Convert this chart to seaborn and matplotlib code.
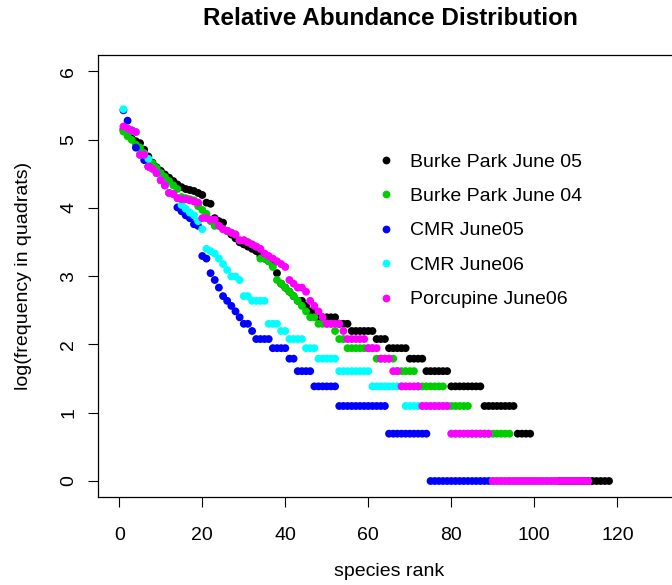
import numpy as np
import pandas as pd
import matplotlib
matplotlib.use("Agg")
import matplotlib.pyplot as plt
import seaborn as sns
from matplotlib.lines import Line2D

# ---------------- data (species frequency by rank) ----------------
site_names = ["Burke Park June 05", "Burke Park June 04", "CMR June05", "CMR June06", "Porcupine June06"]
site_colors = ["#000000", "#00CD00", "#0000FF", "#00FFFF", "#FF00FF"]

burke_june05 = [172, 161, 151, 145, 141, 128, 116, 106, 99, 94, 89, 85, 81, 77, 74, 72, 71, 70, 68, 66,
                59, 58, 47, 45, 44, 39, 37, 35, 33, 32, 31, 30, 29, 27, 26, 25, 24, 21, 18, 17,
                16, 15, 14, 14, 13, 12, 12,
                11, 11, 11, 11, 11,
                10, 10, 10,
                9, 9, 9, 9, 9, 9,
                8, 8, 8,
                7, 7, 7, 7, 7,
                6, 6, 6, 6,
                5, 5, 5, 5, 5, 5,
                4, 4, 4, 4, 4, 4, 4, 4,
                3, 3, 3, 3, 3, 3, 3, 3,
                2, 2, 2, 2,
                1, 1, 1, 1, 1, 1, 1, 1, 1, 1, 1, 1, 1, 1, 1, 1, 1, 1, 1]

burke_june04 = [167, 156, 148, 138, 132, 122, 112, 105, 98, 91, 86, 81, 76, 72, 64, 63, 62, 61, 56, 53,
                50, 45, 42, 42, 40, 39, 38, 37, 34, 34, 33, 32, 31, 26, 26, 25, 23,
                19, 18, 17, 16, 15, 14, 13, 12, 11, 11,
                10, 10, 10, 10,
                9,
                8, 8,
                7, 7, 7, 7, 7, 7, 7,
                6, 6, 6, 6, 6,
                5, 5, 5, 5, 5,
                4, 4, 4, 4, 4, 4, 4,
                3, 3, 3, 3, 3, 3,
                2, 2, 2, 2, 2, 2, 2, 2, 2, 2,
                1, 1, 1, 1, 1, 1, 1, 1, 1, 1, 1]

cmr_june05 = [228, 196, 170, 132, 119, 110, 100, 97, 91, 82, 76, 68, 67, 55, 52, 49, 47, 43, 42, 27,
              26, 21, 19, 17, 15, 14, 13, 12, 11, 10, 10, 9,
              8, 8, 8, 8,
              7, 7, 7, 7,
              6, 6,
              5, 5, 5, 5,
              4, 4, 4, 4, 4, 4,
              3, 3, 3, 3, 3, 3, 3, 3, 3, 3, 3, 3,
              2, 2, 2, 2, 2, 2, 2, 2, 2, 2,
              1, 1, 1, 1, 1, 1, 1, 1, 1, 1, 1, 1, 1, 1, 1, 1, 1, 1, 1, 1, 1, 1, 1, 1, 1, 1]

cmr_june06 = [232, 175, 170, 166, 119, 119, 112, 97, 91, 82, 76, 68, 67, 63, 57, 54, 51, 49, 45, 40,
              30, 29, 28, 26, 24, 22, 20, 20, 19, 15, 15, 14, 14, 14, 14, 10, 10, 10, 9, 9,
              8, 8, 8, 8,
              7, 7, 7,
              6, 6, 6, 6, 6,
              5, 5, 5, 5, 5, 5, 5, 5,
              4, 4, 4, 4, 4, 4, 4, 4,
              3, 3, 3, 3, 3, 3, 3, 3, 3, 3, 3,
              2, 2, 2, 2, 2, 2, 2, 2, 2, 2,
              1, 1, 1, 1, 1, 1, 1, 1, 1, 1, 1, 1, 1, 1, 1, 1]

porcupine_june06 = [180, 175, 170, 166, 119, 119, 100, 97, 91, 82, 76, 68, 67, 63, 62, 62, 61, 60, 59, 47,
                    47, 46, 46, 42, 40, 39, 38, 37, 34, 34, 33, 32, 31, 30, 28, 27, 26, 25, 24, 23,
                    19, 18, 17, 17, 16, 14, 13, 12, 11,
                    10, 10, 10, 10,
                    9,
                    8, 8, 8, 8, 8,
                    7, 7, 7,
                    6, 6, 6,
                    5, 5,
                    4, 4, 4, 4, 4,
                    3, 3, 3, 3, 3, 3, 3,
                    2, 2, 2, 2, 2, 2, 2, 2, 2, 2,
                    1, 1, 1, 1, 1, 1, 1, 1, 1, 1, 1, 1, 1, 1, 1, 1, 1, 1, 1, 1, 1, 1, 1, 1]

x_ticks = [0, 20, 40, 60, 80, 100, 120]
y_ticks = [0, 1, 2, 3, 4, 5, 6]

# ---------------- build long table ----------------
series = [burke_june05, burke_june04, cmr_june05, cmr_june06, porcupine_june06]
frames = []
for name, freq in zip(site_names, series):
    freq = np.asarray(freq, dtype=float)
    frames.append(pd.DataFrame({"rank": np.arange(1, len(freq) + 1),
                                "logfreq": np.log(freq),
                                "site": name}))
df = pd.concat(frames, ignore_index=True)

# ---------------- style ----------------
sns.set_style("ticks")
plt.rcParams["font.family"] = ["Liberation Sans", "DejaVu Sans"]
plt.rcParams["text.color"] = "black"
plt.rcParams["axes.labelcolor"] = "black"
plt.rcParams["xtick.color"] = "black"
plt.rcParams["ytick.color"] = "black"

W, H = 672, 585
fig = plt.figure(figsize=(W / 100, H / 100), dpi=100)
left_px, right_px, top_px, bottom_px = 97.7, 680.4, 55.0, 497.4
ax = fig.add_axes([left_px / W, 1 - bottom_px / H, (right_px - left_px) / W, (bottom_px - top_px) / H])

sns.scatterplot(data=df, x="rank", y="logfreq", hue="site",
                palette=dict(zip(site_names, site_colors)),
                s=32, linewidth=0, legend=False, ax=ax, zorder=3)

ax.set_xlim(-5.2, 135.2)
ax.set_ylim(-0.24, 6.24)
ax.set_xticks(x_ticks)
ax.set_yticks(y_ticks)
ax.set_xticklabels([str(v) for v in x_ticks])
ax.set_yticklabels([str(v) for v in y_ticks])

fs = 14.0
ax.tick_params(axis="both", direction="out", length=7.2, width=0.8, colors="black", labelsize=fs)
ax.tick_params(axis="x", pad=14.0)
ax.tick_params(axis="y", pad=7.5)
for lbl in ax.get_yticklabels():
    lbl.set_rotation(90)
    lbl.set_va("center")

for sp in ax.spines.values():
    sp.set_linewidth(0.9)
    sp.set_color("black")
    sp.set_visible(True)

ax.set_xlabel("species rank", fontsize=fs)
ax.set_ylabel("log(frequency in quadrats)", fontsize=fs)
ax.xaxis.set_label_coords(0.5, (bottom_px - 572) / (bottom_px - top_px))
ax.xaxis.label.set_va("center")
ax.yaxis.set_label_coords((23.5 - left_px) / (right_px - left_px), 0.5)
ax.yaxis.label.set_va("center")

fig.text(390 / W, 1 - 18.7 / H, "Relative Abundance Distribution",
         ha="center", va="center", fontsize=17.5, fontweight="bold", color="black")

handles = [Line2D([], [], marker="o", color=c, linestyle="none", markersize=5.6, markeredgewidth=0)
           for c in site_colors]
fs_px = fs / 72 * 100
leg = ax.legend(handles, site_names, loc="upper left",
                bbox_to_anchor=((386 - 0.5 * fs_px) / W, 1 - 153.0 / H),
                bbox_transform=fig.transFigure, frameon=False, fontsize=fs,
                handlelength=1.0, handletextpad=(24 - 0.5 * fs_px) / fs_px, labelspacing=0.865,
                borderpad=0, borderaxespad=0)

fig.savefig("out.png", dpi=100)
